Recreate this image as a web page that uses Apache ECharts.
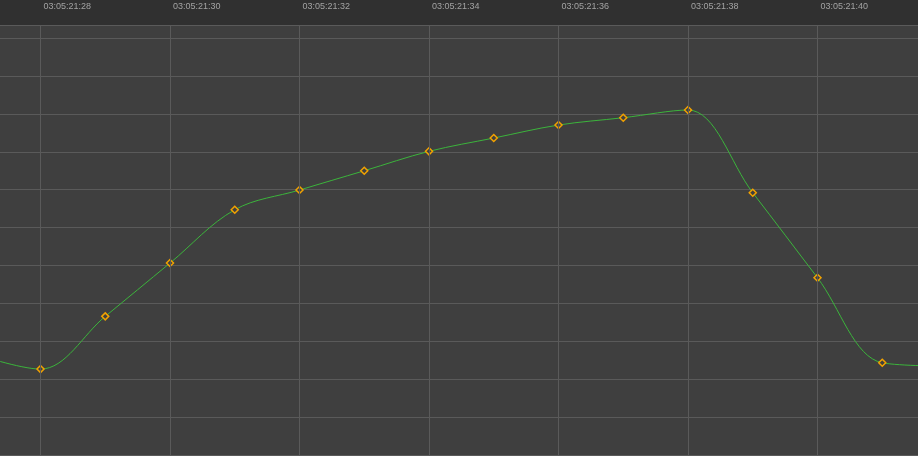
<!DOCTYPE html>
<html>
<head>
<meta charset="utf-8">
<script src="https://cdn.jsdelivr.net/npm/echarts@6/dist/echarts.min.js"></script>
<style>
html,body{margin:0;padding:0;background:#303030;}
#chart{width:918px;height:456px;}
</style>
</head>
<body>
<div id="chart"></div>
<script>
// time (seconds part of 03:05:21:ss)
const seconds = [27, 28, 29, 30, 31, 32, 33, 34, 35, 36, 37, 38, 39, 40, 41, 42];
// values (grid units)
const values = [3.665, 3.269, 4.660, 6.066, 7.472, 7.992, 8.501, 9.013, 9.364, 9.707, 9.900, 10.103, 7.921, 5.678, 3.435, 3.348];
const timePrefix = '03:05:21:';

const data = seconds.map((s, i) => [s, values[i]]);

const chart = echarts.init(document.getElementById('chart'), null, {renderer: 'canvas'});
chart.setOption({
  animation: false,
  backgroundColor: '#303030',
  grid: {
    left: -89,
    right: -29,
    top: 25,
    bottom: -37,
    outerBoundsMode: 'none',
    containLabel: false,
    show: true,
    backgroundColor: '#3f3f3f',
    borderWidth: 0
  },
  xAxis: {
    type: 'value',
    position: 'top',
    min: 26,
    max: 42,
    interval: 2,
    z: 5,
    axisLine: {show: true, lineStyle: {color: '#1c1c1c', width: 1}},
    axisTick: {show: true, length: 25, lineStyle: {color: '#575757', width: 1}},
    splitLine: {show: true, lineStyle: {color: '#5a5a5a', width: 1}},
    axisLabel: {
      show: true,
      formatter: v => timePrefix + v,
      color: '#a3a3a3',
      fontFamily: 'Liberation Sans, Arial, sans-serif',
      fontSize: 9,
      align: 'left',
      verticalAlign: 'middle',
      margin: 18,
      padding: [0, 0, 0, 3]
    }
  },
  yAxis: {
    type: 'value',
    min: 0,
    max: 12.346,
    interval: 1,
    axisLine: {show: false},
    axisTick: {show: false},
    axisLabel: {show: false},
    splitLine: {show: true, lineStyle: {color: '#5a5a5a', width: 1}}
  },
  series: [{
    type: 'line',
    data: data,
    smooth: 0.35,
    symbol: 'diamond',
    symbolSize: 7,
    showAllSymbol: true,
    lineStyle: {color: '#3cb43c', width: 1},
    itemStyle: {color: '#3f3f3f', borderColor: '#f2a200', borderWidth: 1.5}
  }]
});
</script>
</body>
</html>
